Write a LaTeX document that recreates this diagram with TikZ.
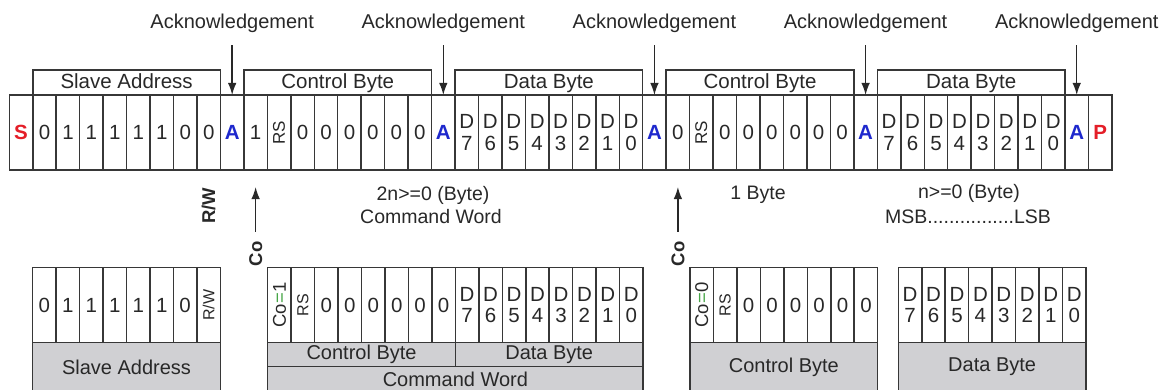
\documentclass[tikz,border=0pt]{standalone}
\usepackage{fontspec}
\usepackage{graphicx}
\setmainfont{Liberation Sans}
\usetikzlibrary{arrows.meta}
\definecolor{ink}{RGB}{40,40,40}
\definecolor{lin}{RGB}{55,55,55}
\definecolor{sred}{RGB}{228,30,40}
\definecolor{ablue}{RGB}{30,40,205}
\definecolor{gfill}{RGB}{208,208,211}
\definecolor{eqgreen}{RGB}{70,165,70}
\newcommand{\myfs}[1]{\fontsize{#1}{#1}\selectfont}
\newcommand{\mySt}{\textcolor{sred}{\bfseries\myfs{20.5}S}}
\newcommand{\myPt}{\textcolor{sred}{\bfseries\myfs{20.5}P}}
\newcommand{\myAk}{\textcolor{ablue}{\bfseries\myfs{20.5}A}}
\newcommand{\myRS}{\rotatebox{90}{\myfs{17}RS}}
\newcommand{\myRSb}{\rotatebox{90}{\myfs{16}RS}}
\newcommand{\myRW}{\rotatebox{90}{\myfs{16}R/W}}
\newcommand{\myCo}[1]{\rotatebox{90}{\myfs{18.5}Co\textcolor{eqgreen}{=}#1}}
\newcommand{\myD}[1]{D\\#1}
\begin{document}
\begin{tikzpicture}[x=1pt,y=-1pt,line width=1.5pt,
  cell/.style={draw=lin,minimum width=23.46pt,minimum height=75pt,inner sep=0pt,outer sep=0pt,align=center,text=ink,font=\fontsize{20.5}{21.5}\selectfont},
  bcell/.style={cell,minimum height=74.6pt},
  brk/.style={draw=lin,minimum width=187.68pt,minimum height=25pt,inner sep=0pt,text=ink,font=\myfs{20.5},text height=15pt,text depth=3pt},
  ack/.style={inner sep=0pt,text=ink,font=\myfs{20},anchor=base},
  note/.style={inner sep=0pt,text=ink,font=\myfs{19.5}},
  arr/.style={draw=ink,line width=1.4pt,-{Latex[length=12pt,width=8.5pt]}},
  rotlab/.style={inner sep=0pt,text=ink,rotate=90,font=\myfs{18.5}\bfseries},
  gbox/.style={draw=lin,fill=gfill,inner sep=0pt,text=ink,font=\myfs{20},minimum width=187.68pt}
]
\useasboundingbox (0,0) rectangle (1166,390);

% ---------- top frame ----------
\foreach \t [count=\i from 0] in {{\mySt},0,1,1,1,1,1,0,0,{\myAk},1,{\myRS},0,0,0,0,0,0,{\myAk},{\myD7},{\myD6},{\myD5},{\myD4},{\myD3},{\myD2},{\myD1},{\myD0},{\myAk},0,{\myRS},0,0,0,0,0,0,{\myAk},{\myD7},{\myD6},{\myD5},{\myD4},{\myD3},{\myD2},{\myD1},{\myD0},{\myAk},{\myPt}}
  \node[cell] (t\i) at ({9.3+23.46*(\i+0.5)},132.5) {\t};

\node[brk] (b1) at ({9.3+23.46*5},82.5) {Slave Address};
\node[brk] (b2) at ({9.3+23.46*14},82.5) {Control Byte};
\node[brk] (b3) at ({9.3+23.46*23},82.5) {Data Byte};
\node[brk] (b4) at ({9.3+23.46*32},82.5) {Control Byte};
\node[brk] (b5) at ({9.3+23.46*41},82.5) {Data Byte};

\foreach \a [count=\k] in {9,18,27,36,45} {
  \node[ack] (ack\k) at ({9.3+23.46*(\a+0.5)},28.3) {Acknowledgement};
  \draw[arr,shorten <=12pt] (ack\k.south) -- (t\a.north);
}

\node[rotlab] (rw) at ({9.3+23.46*8.5},206) {R/W};
\node[rotlab] (co1) at ({9.3+23.46*10.5},254) {Co};
\node[rotlab] (co2) at ({9.3+23.46*28.5},254) {Co};
\draw[arr,shorten <=9pt,shorten >=17pt] (co1) -- (t10.south);
\draw[arr,shorten <=9pt,shorten >=17pt] (co2) -- (t28.south);

\node[note] (n1) at (433,195) {2n>=0 (Byte)};
\node[note] (n2) at (431,217) {Command Word};
\node[note] (n3) at (758,195) {1 Byte};
\node[note] (n4) at (969,193) {n>=0 (Byte)};
\node[note] (n5) at (968,217) {MSB................LSB};

% ---------- bottom boxes ----------
\node[gbox,minimum height=49.4pt] (gs) at ({32.7+23.46*4},367) {Slave Address};
\foreach \t [count=\i from 0] in {0,1,1,1,1,1,0,{\myRW}}
  \node[bcell] (s\i) at ({32.7+23.46*(\i+0.5)},305) {\t};

\node[gbox,minimum height=24.4pt] (gcb) at ({267.7+23.46*4},354.5) {Control Byte};
\node[gbox,minimum height=24.4pt] (gdb) at ({267.7+23.46*12},354.5) {Data Byte};
\node[gbox,minimum width=375.36pt,minimum height=25.4pt] (gcw) at ({267.7+23.46*8},379.4) {Command Word};
\foreach \t [count=\i from 0] in {{\myCo{1}},{\myRSb},0,0,0,0,0,0,{\myD7},{\myD6},{\myD5},{\myD4},{\myD3},{\myD2},{\myD1},{\myD0}}
  \node[bcell] (c\i) at ({267.7+23.46*(\i+0.5)},305) {\t};

\node[gbox,minimum height=49.4pt] (ge) at ({690+23.46*4},367) {Control Byte};
\foreach \t [count=\i from 0] in {{\myCo{0}},{\myRSb},0,0,0,0,0,0}
  \node[bcell] (e\i) at ({690+23.46*(\i+0.5)},305) {\t};

\node[gbox,minimum height=49.4pt] (gf) at ({898.3+23.46*4},367) {Data Byte};
\foreach \t [count=\i from 0] in {{\myD7},{\myD6},{\myD5},{\myD4},{\myD3},{\myD2},{\myD1},{\myD0}}
  \node[bcell] (f\i) at ({898.3+23.46*(\i+0.5)},305) {\t};
\end{tikzpicture}
\end{document}
